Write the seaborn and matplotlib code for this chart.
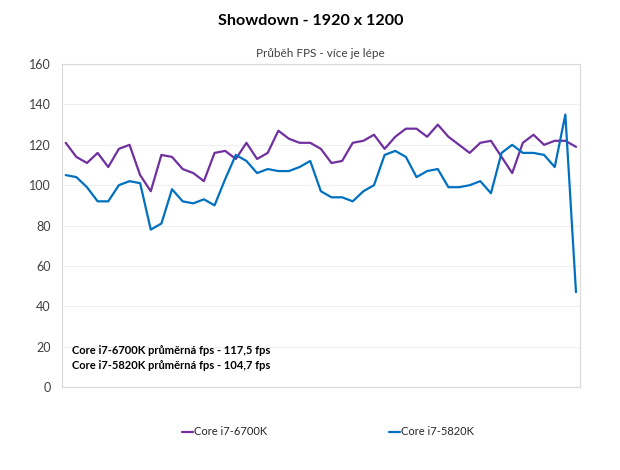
import numpy as np
import pandas as pd
import matplotlib
matplotlib.use("Agg")
import matplotlib.pyplot as plt
import seaborn as sns

sns.set_theme(style="white")
plt.rcParams["font.family"] = ["Lato", "DejaVu Sans"]

# data (fps per sample)
FPS_6700K = [121, 114, 111, 116, 109, 118, 120, 105, 97, 115,
             114, 108, 106, 102, 116, 117, 113, 121, 113, 116,
             127, 123, 121, 121, 118, 111, 112, 121, 122, 125,
             118, 124, 128, 128, 124, 130, 124, 120, 116, 121,
             122, 114, 106, 121, 125, 120, 122, 122, 119]
FPS_5820K = [105, 104, 99, 92, 92, 100, 102, 101, 78, 81,
             98, 92, 91, 93, 90, 103, 115, 112, 106, 108,
             107, 107, 109, 112, 97, 94, 94, 92, 97, 100,
             115, 117, 114, 104, 107, 108, 99, 99, 100, 102,
             96, 116, 120, 116, 116, 115, 109, 135, 47]
SERIES = ["Core i7-6700K", "Core i7-5820K"]
COLORS = ["#7030A0", "#0070C0"]
Y_TICKS = list(range(0, 161, 20))
NOTE = ["Core i7-6700K průměrná fps - 117,5 fps",
        "Core i7-5820K průměrná fps - 104,7 fps"]

df = pd.DataFrame({
    "sample": list(range(len(FPS_6700K))) * 2,
    "fps": FPS_6700K + FPS_5820K,
    "cpu": [SERIES[0]] * len(FPS_6700K) + [SERIES[1]] * len(FPS_5820K),
})

fig = plt.figure(figsize=(6.2, 4.7), dpi=100)
ax = fig.add_axes([0.1, 0.1766, 0.835, 0.687])

sns.lineplot(data=df, x="sample", y="fps", hue="cpu", palette=COLORS,
             linewidth=1.6, ax=ax)

ax.set_xlim(-0.35, len(FPS_6700K) - 1 + 0.35)
ax.set_ylim(0, 160)
ax.set_yticks(Y_TICKS)
ax.set_xticks([])
ax.set_xlabel("")
ax.set_ylabel("")
ax.tick_params(axis="y", length=0, pad=8, labelsize=9, labelcolor="#404040")
ax.yaxis.grid(True, color="#EFEFEF", linewidth=0.8)
for s in ax.spines.values():
    s.set_color("#D9D9D9")
    s.set_linewidth(0.8)

fig.text(0.502, 0.955, "Showdown - 1920 x 1200", ha="center", va="center",
         fontsize=11.6, fontweight="bold", color="#000000")
ax.set_title("Průběh FPS - více je lépe", fontsize=8.5, color="#404040", pad=5)

ax.text(0.0193, 0.112, NOTE[0], transform=ax.transAxes, fontsize=8,
        fontweight="bold", color="#000000", va="center")
ax.text(0.0193, 0.066, NOTE[1], transform=ax.transAxes, fontsize=8,
        fontweight="bold", color="#000000", va="center")

handles, labels = ax.get_legend_handles_labels()
ax.legend_.remove()
fig.legend(handles, labels, loc="center", bbox_to_anchor=(0.529, 0.081), ncol=2,
           frameon=False, fontsize=8, handlelength=1.0, handletextpad=0.1,
           columnspacing=11.0)

fig.savefig("out.png", dpi=100)
